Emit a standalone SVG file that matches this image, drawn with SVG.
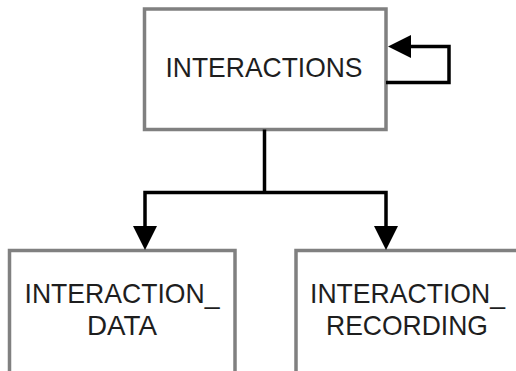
<svg xmlns="http://www.w3.org/2000/svg" width="516" height="371" viewBox="0 0 516 371">
  <style>
    .box { fill: #ffffff; stroke: #808080; stroke-width: 3.5; }
    .label { font-family: "Liberation Sans", Arial, sans-serif; font-size: 28.5px; fill: #1e1e1e; text-anchor: middle; }
    .wire { fill: none; stroke: #000000; stroke-width: 3.5; stroke-linejoin: miter; }
    .head { fill: #000000; }
  </style>
  <rect width="516" height="371" fill="#ffffff"/>

  <g id="interactions">
    <rect class="box" x="144.5" y="9" width="241.5" height="120.5"/>
    <text class="label" x="264" y="77" textLength="197" lengthAdjust="spacingAndGlyphs">INTERACTIONS</text>
  </g>

  <g id="interaction_data">
    <rect class="box" x="9.5" y="250.5" width="225.5" height="140"/>
    <text class="label" x="122" y="303" textLength="195" lengthAdjust="spacingAndGlyphs">INTERACTION_</text>
    <text class="label" x="122" y="335" textLength="70" lengthAdjust="spacingAndGlyphs">DATA</text>
  </g>

  <g id="interaction_recording">
    <rect class="box" x="296" y="250.5" width="240" height="140"/>
    <text class="label" x="407.5" y="303" textLength="195" lengthAdjust="spacingAndGlyphs">INTERACTION_</text>
    <text class="label" x="407" y="335" textLength="162" lengthAdjust="spacingAndGlyphs">RECORDING</text>
  </g>

  <g id="connectors">
    <!-- self loop on INTERACTIONS -->
    <polyline class="wire" points="386,82.5 449,82.5 449,46.5 408,46.5"/>
    <polygon class="head" points="388,46.5 411,35 411,58"/>
    <!-- fan-out to the two children -->
    <polyline class="wire" points="264.5,129.5 264.5,192.5"/>
    <polyline class="wire" points="145,228 145,192.5 386,192.5 386,228"/>
    <polygon class="head" points="145,250 133,226 157,226"/>
    <polygon class="head" points="386,250 374,226 398,226"/>
  </g>
</svg>
